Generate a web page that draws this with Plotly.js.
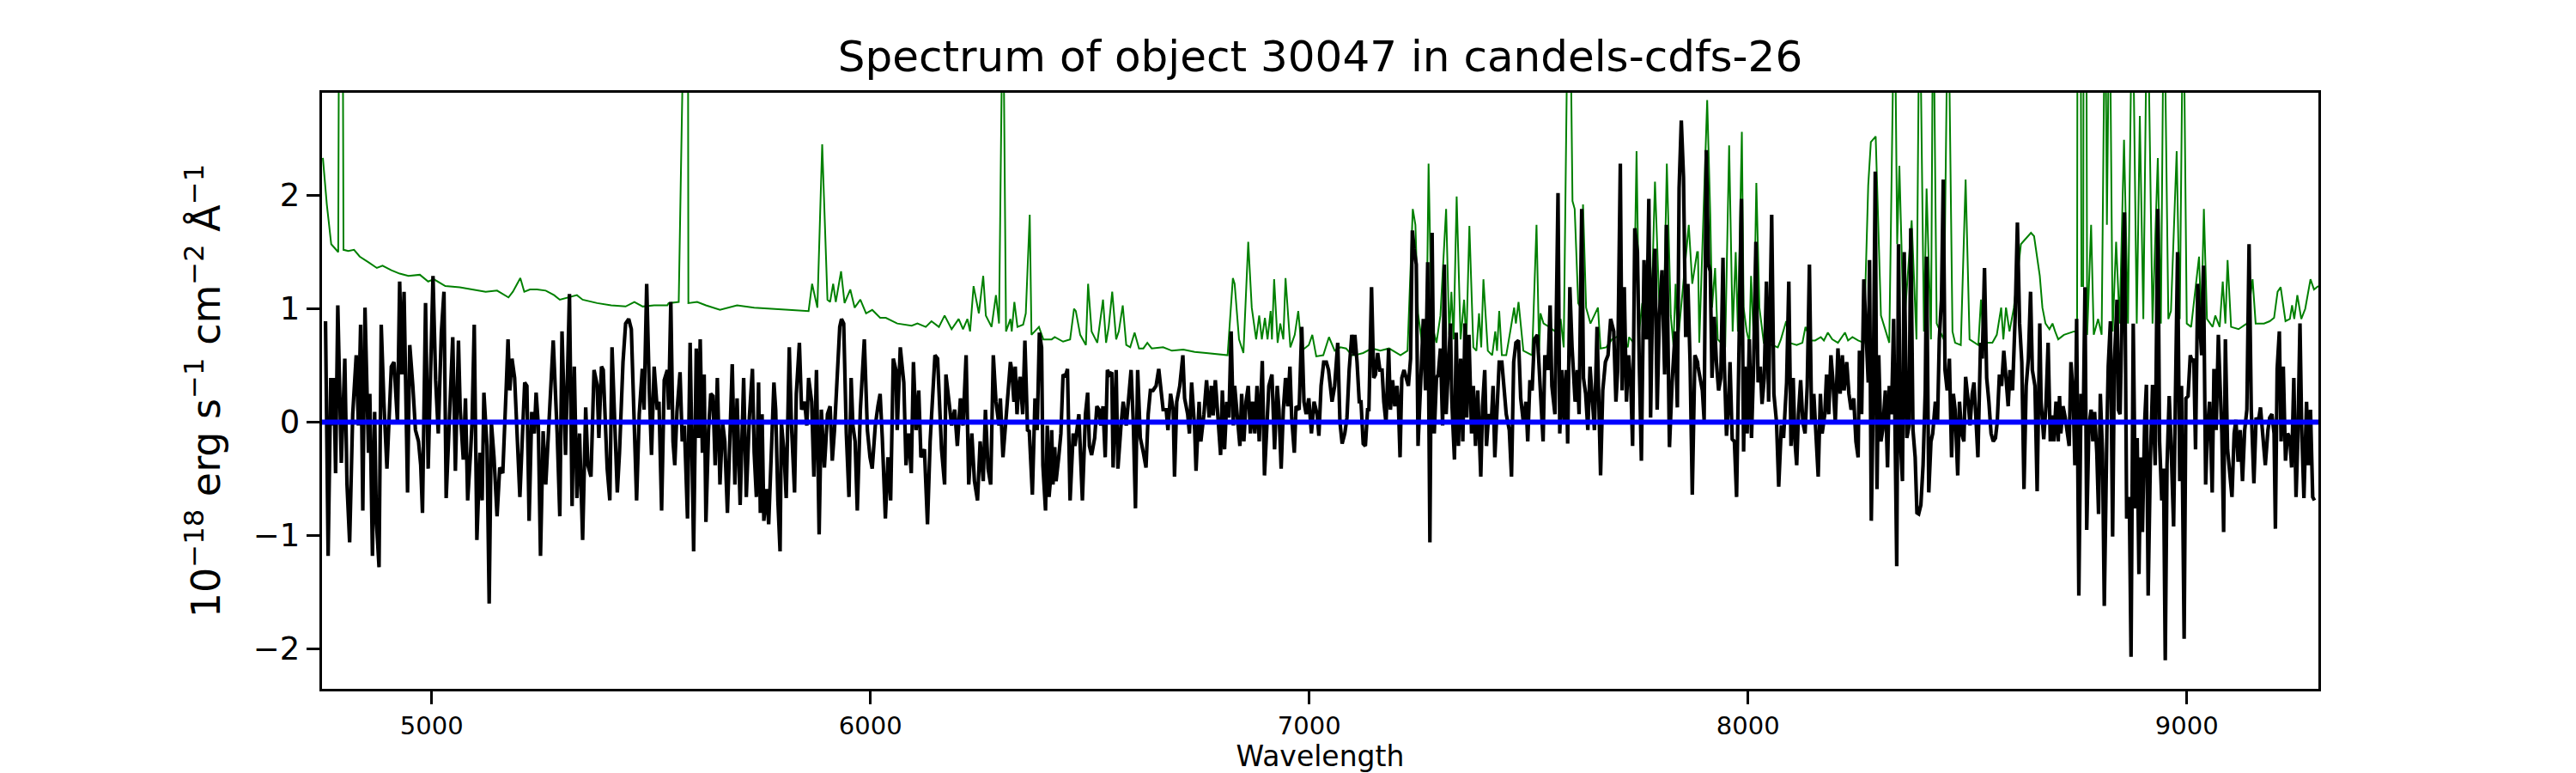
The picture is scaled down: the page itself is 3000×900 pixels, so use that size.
<!DOCTYPE html>
<html>
<head>
<meta charset="utf-8">
<script src="https://cdn.plot.ly/plotly-3.0.1.min.js"></script>
<style>
  body { margin: 0; background: #fff; }
  #chart { width: 3000px; height: 900px; }
</style>
</head>
<body>
<div id="chart"></div>
<script>
// object spectrum (black)
const specWave = [
  4758,4764,4770,4774,4777,4781,4786,4794,4802,4807,4813,4820,4828,4833,4838,4843,4848,4856,4859,4865,
  4870,4874,4880,4885,4891,4898,4908,4914,4922,4927,4932,4937,4945,4950,4957,4963,4970,4975,4979,4986,
  4992,5003,5009,5015,5022,5028,5033,5040,5048,5054,5061,5065,5072,5077,5082,5089,5092,5097,5103,5110,
  5115,5119,5126,5131,5136,5142,5149,5155,5162,5170,5174,5178,5183,5189,5196,5201,5207,5212,5217,5222,
  5228,5234,5238,5243,5248,5254,5260,5266,5277,5286,5292,5297,5305,5314,5320,5325,5331,5337,5344,5351,
  5356,5363,5370,5377,5381,5387,5391,5400,5406,5411,5416,5423,5428,5436,5442,5449,5455,5462,5467,5473,
  5480,5484,5490,5496,5501,5507,5514,5518,5524,5530,5537,
  5540,5545,5550,5554,5559,5566,5571,5576,5583,5589,5597,5603,5608,5612,5617,5621,5625,5631,5636,5641,
  5646,5651,5657,5663,5668,5674,5678,5685,5691,5696,5703,5711,5717,5724,5731,5735,5740,5745,5749,5753,
  5757,5763,5768,5775,5780,5784,5789,5794,5797,5803,5808,5815,5820,5827,5831,5838,5843,5850,5855,5859,
  5866,5871,5877,5883,5888,5895,5902,5908,5913,5918,5924,5930,5934,5939,5945,5951,5956,5960,5965,5970,
  5977,5986,5993,5999,6004,6011,6017,6022,6027,6034,6040,6046,6052,6058,6061,6068,6076,6081,6087,6093,
  6098,6104,6110,6115,6123,6130,6136,6142,6147,6153,6158,6162,6169,6172,6179,6185,6192,6198,6205,6211,
  6218,6224,6231,6237,6244,6250,6257,6262,6268,6274,6280,6286,6293,6296,6302,6309,6319,
  6322,6327,6330,6334,6338,6341,6347,6352,6358,6362,6369,6375,6380,6385,6390,6393,6399,6403,6407,6410,
  6413,6416,6420,6423,6429,6434,6439,6444,6449,6455,6462,6466,6475,6483,6490,6495,6499,6504,6511,6516,
  6521,6525,6530,6535,6540,6545,6550,6553,6560,6564,6571,6576,6583,6589,6594,6599,6604,6609,6615,6622,
  6628,6633,6638,6644,6651,6657,6662,6667,6674,6678,6684,6690,6693,6698,6705,6712,6716,6723,6727,6732,
  6739,6742,6749,6753,6760,6766,6772,6777,6781,6786,6792,6798,6802,6807,6812,6817,6822,6827,6830,6835,
  6842,6846,6851,6856,6861,6866,6871,6876,6881,6886,6893,6898,6903,6908,6915,6921,6927,6931,6936,6941,
  6946,6951,6956,6960,6966,6970,6977,6983,6988,6993,6999,7005,7011,7018,7022,7027,7033,7039,7044,7052,
  7058,7065,7070,7075,7081,7086,7091,7097,7103,
  7104,7109,7114,7118,7123,7128,7133,7136,7142,7147,7151,7156,7161,7166,7170,7175,7181,7185,7190,7195,
  7200,7203,7207,7211,7216,7221,7226,7231,7235,7239,7244,7248,7254,7260,7265,7270,7275,7280,7285,7290,
  7294,7299,7304,7308,7312,7317,7322,7325,7331,7335,7340,7345,7350,7355,7359,7364,7370,7374,7379,7384,
  7391,7395,7400,7404,7409,7415,7419,7423,7428,7433,7439,7445,7449,7456,7461,7466,7471,7477,7482,7488,
  7494,7498,7503,7508,7513,7520,7526,7533,7537,7544,7549,7553,7560,7567,7571,7576,7581,7586,7589,7594,
  7599,7606,7611,7615,7621,7625,7630,7635,7640,7645,7650,7656,7664,7669,7675,7681,7687,7694,7699,7703,
  7709,7713,7718,7723,7728,7733,7737,7742,7748,7752,7757,7763,7769,7774,7778,7783,7788,7793,7798,7804,
  7810,7814,7821,7827,7834,7839,7843,7848,7853,7858,7863,7868,7873,7879,7885,
  7886,7891,7896,7900,7905,7910,7914,7918,7923,7928,7933,7938,7943,7946,7951,7956,7959,7964,7969,7974,
  7978,7985,7990,7993,7998,8003,8008,8013,8018,8023,8028,8032,8037,8042,8047,8054,8059,8065,8070,8076,
  8081,8088,8093,8098,8103,8107,8111,8115,8120,8125,8130,8135,8140,8145,8150,8154,8160,8165,8169,8175,
  8179,8184,8189,8193,8199,8205,8210,8215,8219,8225,8230,8235,8241,8246,8251,8254,8259,8264,8269,8274,
  8277,8281,8285,8290,8294,8298,8303,8307,8313,8318,8322,8327,8332,8335,8339,8343,8347,8352,8356,8362,
  8367,8371,8376,8381,8385,8389,8394,8399,8404,8407,8412,8417,8421,8427,8432,8436,8441,8445,8449,8454,
  8459,8464,8468,8472,8478,8482,8487,8492,8496,8502,8506,8511,8515,8519,8524,8530,8534,8539,8544,8549,
  8554,8559,8564,8568,8573,8578,8583,8588,8593,8597,8603,8609,8614,8619,8624,8629,8634,8639,8644,8648,
  8654,8659,8665,
  8668,8671,8674,8679,8684,8689,8693,8697,8702,8707,8710,8713,8718,8723,8728,8732,8736,8741,8745,8749,
  8754,8759,8764,8768,8772,8777,8782,8786,8790,8795,8799,8803,8808,8812,8818,8821,8826,8831,8835,8841,
  8844,8848,8854,8858,8863,8869,8873,8878,8883,8887,8891,8895,8899,8904,8908,8912,8917,8922,8928,8934,
  8938,8943,8947,8951,8955,8960,8964,8970,8974,8979,8984,8988,8994,8998,9003,9008,9013,9016,9020,9025,
  9029,9034,9038,9043,9047,9052,9058,9062,9067,9072,9076,9080,9084,9088,9093,9098,9103,9108,9112,9117,
  9122,9127,9132,9137,9142,9147,9153,9158,9163,9168,9173,9179,9185,9189,9194,9199,9202,9206,9211,9215,
  9220,9225,9230,9235,9239,9244,9249,9253,9258,9262,9267,9273,9277,9282,9287,9291
];
const specFlux = [
  0.89,-1.18,0.39,-0.03,0.39,-0.45,1.03,-0.36,0.56,-0.55,-1.06,0.07,0.59,-0.03,0.86,-0.78,1.01,-0.27,0.25,-1.18,
  0.09,-0.87,-1.28,0.86,0.18,-0.41,0.49,0.53,0.00,1.24,0.42,1.15,-0.62,0.68,0.32,-0.07,-0.17,-0.38,-0.80,1.05,
  -0.41,1.29,0.37,-0.10,0.79,1.15,-0.67,0.07,0.75,-0.43,0.72,0.11,-0.33,0.21,-0.69,-0.24,0.00,0.86,-1.04,-0.27,
  -0.69,0.26,-0.21,-1.60,0.00,-0.31,-0.83,-0.40,-0.45,0.32,0.73,0.28,0.56,0.39,-0.17,-0.66,-0.10,0.35,0.32,-0.87,
  0.09,-0.10,0.26,-0.03,-1.18,-0.08,-0.55,-0.10,0.72,-0.10,-0.83,0.80,-0.29,1.13,-0.74,0.49,-0.67,-0.10,-1.04,0.13,
  -0.38,-0.48,0.46,0.33,-0.14,0.49,0.46,-0.41,-0.69,0.66,0.14,-0.62,-0.27,0.53,0.87,0.91,0.82,-0.10,-0.69,0.07,
  0.47,0.11,1.22,0.28,-0.29,0.49,0.11,0.18,-0.78,0.37,0.46,
  0.11,1.06,-0.17,-0.38,0.09,0.44,-0.17,-0.03,-0.85,0.70,-1.14,0.65,-0.14,0.73,-0.27,0.42,-0.88,-0.07,0.25,0.23,
  -0.38,0.39,-0.55,0.00,-0.17,-0.80,-0.34,0.51,-0.55,0.21,-0.73,0.39,-0.66,0.04,0.47,-0.27,-0.66,0.35,-0.80,0.07,
  -0.87,-0.59,-0.90,-0.17,0.35,0.11,-0.69,-1.14,0.00,-0.27,-0.67,0.66,-0.03,-0.62,0.25,0.70,0.11,0.18,-0.03,0.39,
  0.18,-0.48,0.46,-0.99,0.11,-0.40,0.07,0.14,-0.34,-0.07,0.35,0.84,0.91,0.87,-0.10,-0.66,0.39,-0.03,-0.17,-0.78,
  0.11,0.73,-0.07,-0.31,-0.41,-0.03,0.14,0.25,-0.14,-0.85,-0.31,-0.69,0.56,0.46,-0.07,0.66,0.35,-0.38,-0.10,-0.45,
  0.53,-0.07,0.28,-0.31,-0.24,-0.90,-0.17,0.25,0.59,0.56,0.11,-0.24,-0.55,0.42,0.18,-0.03,0.11,-0.21,0.21,-0.03,
  0.59,-0.55,-0.10,-0.52,-0.69,-0.17,-0.52,0.11,-0.41,-0.55,0.59,0.18,-0.03,0.21,-0.31,0.04,0.53,
  0.46,0.18,0.49,0.07,0.32,0.40,0.07,0.72,-0.07,-0.08,-0.64,0.21,-0.07,0.79,0.66,-0.38,-0.78,-0.03,-0.66,-0.52,
  -0.07,-0.55,-0.22,-0.52,-0.31,-0.10,0.42,0.40,0.47,-0.69,-0.10,-0.21,0.07,-0.69,0.07,0.26,-0.21,-0.29,-0.14,0.14,
  0.11,-0.03,0.14,-0.31,0.46,0.42,0.44,-0.40,0.46,-0.41,-0.03,0.18,-0.03,0.25,0.46,0.00,-0.76,0.46,-0.14,-0.27,
  -0.40,0.07,0.28,0.28,0.32,0.47,0.28,0.11,0.11,-0.07,0.25,0.11,-0.48,0.18,0.32,0.59,0.21,0.07,-0.10,0.35,
  -0.07,-0.43,0.18,-0.17,0.07,0.37,0.04,0.32,0.06,0.37,0.04,-0.29,0.28,-0.24,0.18,0.04,0.80,-0.03,0.32,0.07,
  -0.21,0.25,-0.17,0.18,0.32,-0.10,0.18,-0.10,0.32,-0.17,0.54,-0.47,-0.03,0.32,0.42,-0.24,0.32,0.11,-0.41,0.11,
  0.39,0.14,0.49,0.04,-0.27,0.14,0.11,0.84,0.18,0.07,0.21,-0.10,0.18,0.07,-0.12,0.32,0.53,0.53,0.46,0.18,
  0.32,0.70,0.00,-0.19,-0.10,0.04,0.46,0.77,0.59,
  0.77,0.53,0.18,0.18,-0.19,-0.21,0.11,0.11,1.19,0.39,0.42,0.61,0.46,0.46,0.18,-0.01,0.65,0.11,0.37,0.14,
  0.32,0.18,-0.31,0.39,0.46,0.39,0.32,0.56,1.69,1.53,1.39,-0.21,0.42,0.91,0.28,1.41,-1.06,1.67,-0.10,0.39,
  0.42,0.65,-0.03,1.39,0.07,0.46,0.87,0.18,-0.33,0.79,-0.21,0.56,-0.17,0.87,0.04,0.77,-0.10,0.32,-0.21,0.28,
  -0.48,0.14,0.46,-0.21,0.07,0.00,0.32,-0.31,0.11,0.53,0.53,0.21,0.07,-0.07,-0.48,0.53,0.70,0.72,0.21,0.00,
  0.18,-0.17,0.37,0.28,0.73,0.77,0.39,-0.17,0.59,0.46,1.03,0.32,0.07,2.02,-0.10,0.46,0.00,0.46,-0.19,1.19,
  0.66,0.18,0.46,0.07,1.88,0.39,0.25,-0.07,0.49,0.25,-0.07,0.84,-0.47,0.28,0.53,0.59,0.91,0.80,0.18,0.46,
  2.28,0.28,1.19,0.18,0.59,0.32,-0.21,1.71,1.50,0.56,-0.34,1.43,0.73,1.97,0.04,1.22,1.53,0.11,0.94,1.34,
  0.42,1.74,-0.22,0.35,0.80,0.13,2.06,2.66,2.16,0.75,1.22,0.53,-0.64,0.59,0.53,
  0.49,0.39,0.28,0.02,2.40,1.39,1.33,0.39,0.93,0.53,0.28,0.39,1.45,0.53,-0.12,0.18,0.53,-0.15,-0.17,-0.66,
  0.32,1.97,-0.26,0.49,-0.10,0.73,-0.14,0.53,1.59,0.35,0.49,0.16,0.39,1.24,0.18,1.83,0.25,0.00,-0.57,-0.03,
  -0.14,0.35,1.24,-0.21,0.39,-0.17,-0.38,0.07,0.37,0.00,-0.10,0.32,1.39,0.00,0.25,-0.03,-0.48,0.25,-0.10,0.07,
  0.42,0.07,0.59,0.39,0.00,0.65,0.25,0.59,0.28,0.53,0.25,0.11,0.21,-0.17,-0.31,0.63,0.07,1.26,0.73,0.35,
  1.43,-0.87,0.11,2.21,-0.59,0.59,-0.17,-0.07,0.28,-0.40,0.32,0.07,0.91,0.00,-1.27,1.57,-0.14,-0.52,1.50,-0.14,
  -0.03,1.71,-0.07,-0.31,-0.80,-0.81,-0.73,-0.38,0.28,1.46,-0.62,-0.17,-0.10,0.18,0.00,0.73,1.08,2.14,0.46,0.28,
  0.56,-0.31,0.25,0.11,-0.47,0.18,-0.10,-0.17,0.40,0.18,-0.03,0.25,0.35,0.07,-0.31,0.70,0.56,1.36,0.39,0.18,
  -0.10,-0.17,-0.14,0.00,0.42,0.32,0.63,0.39,0.14,0.46,0.28,0.94,1.76,0.87,0.53,-0.59,0.32,0.56,1.15,0.46,
  0.32,-0.61,0.87,
  0.18,0.00,-0.15,0.14,0.70,-0.17,0.06,-0.17,0.18,-0.17,0.23,-0.10,0.14,0.04,-0.10,-0.21,0.53,0.25,-0.38,0.91,
  -1.53,0.25,-0.03,1.19,-0.95,-0.03,0.11,-0.17,0.09,-0.27,-0.81,0.25,-0.27,-1.62,-0.07,0.49,0.89,-1.01,0.53,1.08,
  0.11,0.07,1.26,1.85,-0.85,-0.66,-2.07,0.87,-0.76,-0.14,-1.34,-0.31,-0.97,0.00,0.33,-1.53,-0.34,0.33,-0.38,1.88,
  -0.17,-0.69,-0.41,-2.10,-0.38,0.23,-0.17,-0.92,0.18,1.50,-0.52,0.32,-1.91,0.21,0.23,0.59,0.53,0.56,-0.24,1.22,
  0.91,0.59,1.38,-0.55,-0.07,0.18,-0.62,0.47,-0.07,0.77,0.32,-0.10,-0.97,0.73,-0.24,-0.47,-0.66,-0.10,0.02,-0.35,
  -0.07,-0.52,-0.07,0.11,1.57,0.11,-0.54,0.04,0.00,0.13,-0.07,-0.38,-0.07,0.04,0.07,-0.10,-0.94,0.47,0.80,-0.17,
  0.49,-0.34,-0.10,-0.14,-0.40,0.39,-0.66,-0.17,0.87,-0.07,-0.67,0.18,-0.38,0.11,-0.66,-0.69
];

// noise / sky spectrum (green); 4.0 marks lines that run off the top
const noiseWave = [
  4752,4761,4771,4787,4789,4797,4799,4810,4823,4836,4856,4875,4888,4908,4927,4947,4973,4992,5005,5031,
  5064,5097,5123,5149,5175,5185,5202,5211,5224,5240,5260,5279,5292,5331,5344,5377,5409,5442,5462,5481,
  5507,5537,
  5540,5563,5576,5584,5585,5605,5625,5657,5696,5735,5768,5814,5859,5867,5879,5890,5894,5895,5902,5908,
  5915,5921,5933,5941,5954,5964,5977,5990,6004,6022,6035,6061,6094,6107,6126,6139,6156,6169,6185,6201,
  6211,6221,6227,6235,6247,6257,6263,6276,6286,6293,6298,6302,6309,6319,
  6322,6328,6335,6348,6354,6363,6367,6384,6394,6413,6420,6439,6455,6464,6468,6478,6491,6496,6504,6517,
  6530,6537,6543,6551,6560,6566,6575,6583,6592,6602,6612,6622,6631,6641,6667,6687,6713,6739,6765,6791,
  6814,6826,6830,6840,6850,6861,6869,6879,6886,6892,6899,6905,6912,6915,6920,6928,6934,6941,6946,6957,
  6967,6975,6983,6999,7007,7016,7032,7045,7058,7071,7084,7097,
  7104,7123,7143,7162,7182,7208,7224,7236,7242,7248,7257,7267,7272,7279,7290,7299,7312,7319,7324,7329,
  7336,7345,7353,7358,7365,7374,7381,7387,7392,7397,7407,7417,7424,7428,7433,7439,7449,7459,7467,7471,
  7477,7488,7508,7518,7524,7527,7534,7547,7560,7573,7580,7590,7594,7600,7605,7613,7620,7624,7631,7641,
  7658,7664,7677,7690,7710,7726,7729,7739,7746,7752,7759,7769,7778,7788,7798,7808,7815,7824,7830,7835,
  7840,7865,7873,7884,
  7886,7889,7907,7914,7918,7925,7931,7948,7957,7965,7972,7977,7986,7990,7997,8003,8007,8013,8019,8026,
  8036,8055,8068,8075,8087,8094,8111,8124,8131,8143,8153,8166,8173,8182,8192,8205,8221,8228,8238,8251,
  8264,8274,8280,8291,8303,8322,8334,8340,8345,8355,8373,8384,8391,8401,8407,8417,8422,8430,8446,8456,
  8466,8472,8485,8496,8505,8525,8531,8537,8557,8567,8577,8582,8588,8596,8606,8622,8645,8652,8665,
  8671,8678,8687,8694,8700,8707,8720,8733,8743,8750,8751,8758,8760,8764,8765,8771,8773,8782,8788,8798,
  8806,8814,8818,8824,8831,8839,8847,8857,8866,8876,8886,8893,8901,8910,8922,8934,8941,8948,8958,8964,
  8977,8984,8992,9000,9010,9028,9033,9039,9046,9059,9065,9075,9082,9088,9093,9101,9118,9137,9150,9157,
  9176,9189,9199,9207,9214,9225,9235,9240,9245,9252,9261,9270,9282,9290,9300
];
const noiseFlux = [
  2.33,1.92,1.57,1.50,4.0,4.0,1.52,1.51,1.52,1.46,1.41,1.36,1.38,1.34,1.31,1.29,1.30,1.24,1.26,1.20,
  1.19,1.17,1.15,1.16,1.10,1.15,1.27,1.15,1.17,1.17,1.16,1.12,1.08,1.12,1.08,1.05,1.03,1.02,1.06,1.02,
  1.03,1.03,
  1.05,1.06,4.0,4.0,1.05,1.06,1.03,0.99,1.03,1.01,1.00,0.99,0.98,1.22,1.01,2.45,1.99,1.89,1.08,1.06,
  1.22,1.06,1.33,1.05,1.17,1.01,1.08,0.96,0.99,0.92,0.92,0.87,0.85,0.87,0.84,0.89,0.84,0.94,0.82,0.91,
  0.82,0.91,0.80,1.20,0.96,1.29,0.94,0.84,1.12,0.87,4.0,4.0,0.80,0.91,
  0.80,1.06,0.84,0.86,0.96,1.83,0.77,0.84,0.73,0.73,0.75,0.71,0.73,1.00,0.98,0.77,0.68,1.22,0.80,0.70,
  1.08,0.70,0.84,1.15,0.73,0.80,1.03,0.68,0.66,0.79,0.65,0.65,0.70,0.65,0.66,0.63,0.64,0.62,0.61,0.60,
  0.59,1.27,1.22,0.73,0.61,1.59,1.01,0.73,0.94,0.73,0.92,0.73,0.98,0.73,1.26,0.70,0.87,0.73,1.27,0.66,
  0.77,0.98,0.63,0.68,0.77,0.58,0.59,0.75,0.63,0.66,0.65,0.59,
  0.59,0.61,0.65,0.63,0.65,0.59,0.63,1.88,1.74,0.96,0.70,0.66,2.28,0.87,0.70,0.94,1.88,0.77,1.15,0.73,
  1.99,0.73,1.08,0.70,1.73,0.66,0.63,0.96,0.66,1.26,0.63,0.59,0.80,0.63,0.98,0.59,0.59,0.82,1.01,0.87,
  1.06,0.63,0.59,1.74,0.63,0.96,0.87,0.84,0.80,0.91,0.66,4.0,4.0,1.95,1.88,1.05,1.00,1.92,1.01,0.87,
  1.01,0.65,0.66,0.73,0.77,0.66,0.75,0.70,2.39,0.80,1.05,0.91,0.73,2.12,1.01,0.91,2.28,0.94,0.68,1.22,
  0.70,1.74,1.22,1.50,
  1.50,0.70,2.84,1.83,1.01,1.36,0.73,0.66,2.44,0.80,1.50,0.80,2.56,1.01,0.80,0.70,1.29,0.73,2.11,1.01,
  0.70,0.68,0.66,0.73,0.89,0.70,0.68,0.70,0.84,0.72,0.72,0.75,0.72,0.79,0.73,0.70,0.79,0.72,0.75,0.72,
  0.70,2.09,2.47,2.52,0.94,0.70,4.0,1.57,2.26,0.80,1.78,0.73,4.0,0.80,2.06,0.73,4.0,0.87,0.73,4.0,
  0.80,0.70,0.68,2.14,0.73,0.68,1.08,0.70,0.70,0.77,1.01,0.73,1.01,0.80,1.01,1.57,1.67,1.64,1.29,
  1.01,0.87,0.82,0.87,0.80,0.73,0.77,0.79,0.80,0.80,4.0,4.0,1.20,1.20,4.0,4.0,0.77,1.74,0.77,0.91,
  0.77,4.0,1.74,4.0,0.80,1.59,0.87,2.49,0.87,4.0,0.87,2.70,0.91,4.0,0.87,2.33,0.87,4.0,0.91,0.98,
  2.39,0.91,4.0,0.87,0.84,1.46,0.87,1.88,0.91,0.84,0.94,0.84,1.24,0.87,1.43,0.84,0.82,0.87,1.26,0.87,
  0.87,0.89,0.92,1.15,1.19,0.89,0.91,1.03,0.91,1.12,0.91,1.00,1.26,1.17,1.20
];

// model (blue), flat at zero
const modelWave = [4750, 9300];
const modelFlux = [0, 0];

const xTicks = [5000, 6000, 7000, 8000, 9000];
const yTicks = [-2, -1, 0, 1, 2];

const noise = {
  x: noiseWave, y: noiseFlux,
  type: 'scatter', mode: 'lines',
  line: {color: 'green', width: 2}
};
const spec = {
  x: specWave, y: specFlux,
  type: 'scatter', mode: 'lines',
  line: {color: 'black', width: 4.2}
};
const model = {
  x: modelWave, y: modelFlux,
  type: 'scatter', mode: 'lines',
  line: {color: 'blue', width: 6}
};

const font = 'DejaVu Sans, sans-serif';

const layout = {
  width: 3000, height: 900,
  margin: {l: 375, r: 300, t: 108, b: 98},
  paper_bgcolor: 'white', plot_bgcolor: 'white',
  showlegend: false,
  font: {family: font, color: 'black'},
  title: {
    text: 'Spectrum of object 30047 in candels-cdfs-26',
    font: {family: font, size: 50, color: 'black'},
    xref: 'paper', x: 0.5, xanchor: 'center',
    yref: 'container', y: 0.9272, yanchor: 'middle'
  },
  xaxis: {
    range: [4750, 9300],
    tickvals: xTicks,
    ticks: 'outside', ticklen: 15, tickwidth: 3.3, tickcolor: 'black',
    tickfont: {family: font, size: 29, color: 'black'},
    showline: true, linewidth: 3.3, linecolor: 'black', mirror: true,
    showgrid: false, zeroline: false,
    title: {text: 'Wavelength', font: {family: font, size: 33, color: 'black'}, standoff: 4},
    automargin: false
  },
  yaxis: {
    range: [-2.352, 2.905],
    tickvals: yTicks,
    ticks: 'outside', ticklen: 15, tickwidth: 3.3, tickcolor: 'black',
    tickfont: {family: font, size: 37, color: 'black'},
    showline: true, linewidth: 3.3, linecolor: 'black', mirror: true,
    showgrid: false, zeroline: false,
    title: {
      text: '10<sup>\u221218</sup> erg s<sup>\u22121</sup> cm<sup>\u22122</sup> \u00c5<sup>\u22121</sup>',
      font: {family: font, size: 46, color: 'black'},
      standoff: 24
    },
    automargin: false
  }
};

Plotly.newPlot('chart', [noise, spec, model], layout, {staticPlot: true, displayModeBar: false});
</script>
</body>
</html>
